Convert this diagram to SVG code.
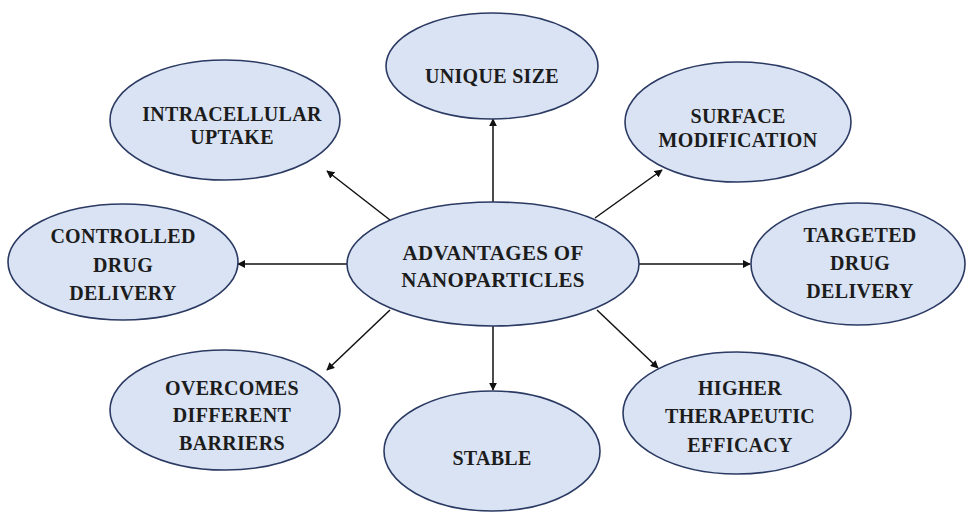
<svg xmlns="http://www.w3.org/2000/svg" width="968" height="512" viewBox="0 0 968 512">
  <defs>
    <marker id="arrow" viewBox="0 0 10 10" refX="9" refY="5" markerWidth="8" markerHeight="8" markerUnits="userSpaceOnUse" orient="auto">
      <path d="M0,0 L10,5 L0,10 Z" fill="#111"/>
    </marker>
    <style>
      .node ellipse { fill: #dae3f3; stroke: #2b3a63; stroke-width: 1.6; }
      .node text { font-family: "Liberation Serif", "DejaVu Serif", serif; font-weight: bold; font-size: 20px; fill: #1c1c1c; text-anchor: middle; letter-spacing: 0.3px; }
      #center text { font-size: 21px; }
      .links line { stroke: #111; stroke-width: 1.5; marker-end: url(#arrow); }
    </style>
  </defs>
  <rect width="968" height="512" fill="#ffffff"/>

  <!-- connectors from the central node -->
  <g class="links">
    <line x1="493" y1="202" x2="493" y2="119"/>
    <line x1="390" y1="220" x2="327" y2="171"/>
    <line x1="595" y1="218" x2="662" y2="170"/>
    <line x1="347" y1="264" x2="238" y2="264"/>
    <line x1="639" y1="264" x2="750" y2="264"/>
    <line x1="390" y1="310" x2="327" y2="370"/>
    <line x1="597" y1="310" x2="658" y2="368"/>
    <line x1="493" y1="326" x2="493" y2="390"/>
  </g>

  <g id="center" class="node">
    <ellipse cx="493" cy="264" rx="146" ry="62"/>
    <text x="493" y="260">ADVANTAGES OF</text>
    <text x="493" y="287">NANOPARTICLES</text>
  </g>

  <g id="unique-size" class="node">
    <ellipse cx="492" cy="66" rx="106" ry="53"/>
    <text x="492" y="83">UNIQUE SIZE</text>
  </g>

  <g id="intracellular-uptake" class="node">
    <ellipse cx="225" cy="120" rx="115" ry="60"/>
    <text x="232" y="121">INTRACELLULAR</text>
    <text x="232" y="144">UPTAKE</text>
  </g>

  <g id="surface-modification" class="node">
    <ellipse cx="738" cy="122" rx="113" ry="60"/>
    <text x="738" y="123">SURFACE</text>
    <text x="738" y="147">MODIFICATION</text>
  </g>

  <g id="controlled-drug-delivery" class="node">
    <ellipse cx="123" cy="262" rx="115" ry="58"/>
    <text x="123" y="243">CONTROLLED</text>
    <text x="123" y="272">DRUG</text>
    <text x="123" y="300">DELIVERY</text>
  </g>

  <g id="targeted-drug-delivery" class="node">
    <ellipse cx="858" cy="264" rx="107" ry="61"/>
    <text x="860" y="242">TARGETED</text>
    <text x="860" y="270">DRUG</text>
    <text x="860" y="298">DELIVERY</text>
  </g>

  <g id="overcomes-barriers" class="node">
    <ellipse cx="225" cy="410" rx="115" ry="60"/>
    <text x="232" y="395">OVERCOMES</text>
    <text x="232" y="422">DIFFERENT</text>
    <text x="232" y="450">BARRIERS</text>
  </g>

  <g id="higher-efficacy" class="node">
    <ellipse cx="737" cy="413" rx="114" ry="61"/>
    <text x="740" y="395">HIGHER</text>
    <text x="740" y="423">THERAPEUTIC</text>
    <text x="740" y="452">EFFICACY</text>
  </g>

  <g id="stable" class="node">
    <ellipse cx="492" cy="451" rx="108" ry="60"/>
    <text x="492" y="465">STABLE</text>
  </g>
</svg>
